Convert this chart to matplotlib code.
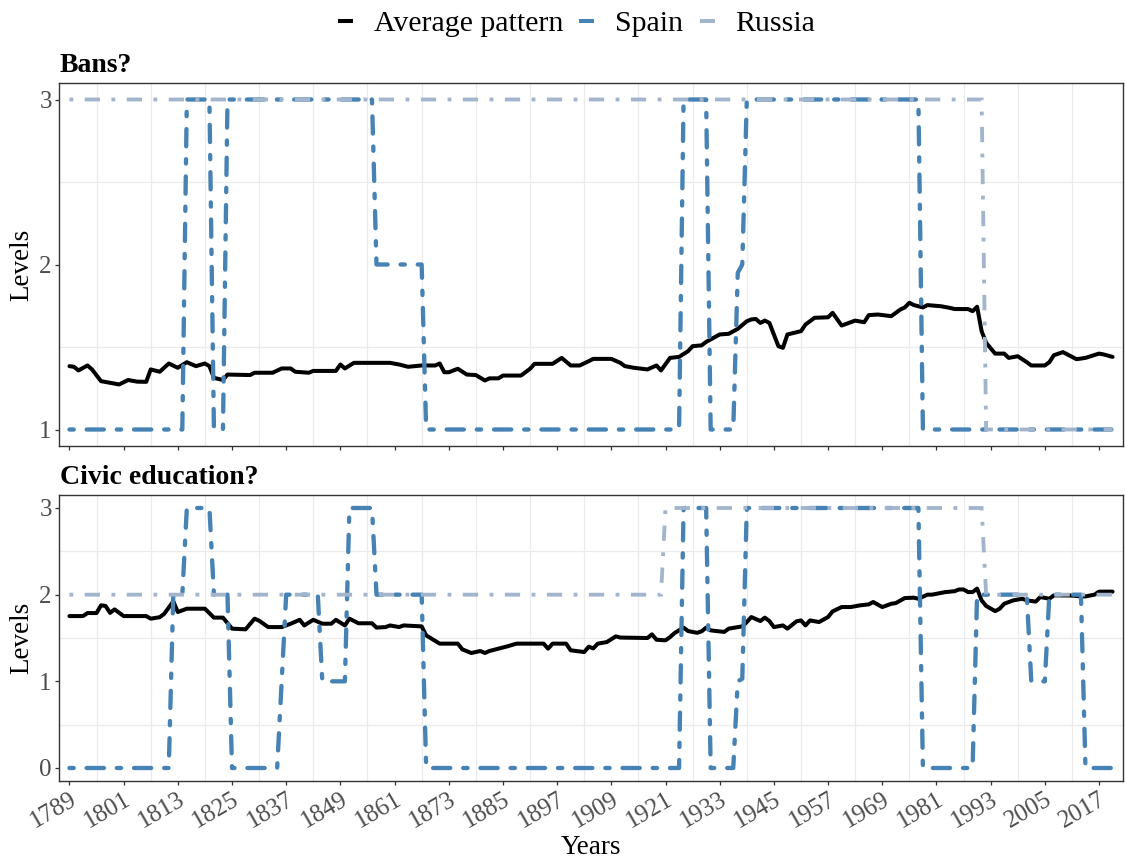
import matplotlib
matplotlib.use('Agg')
import matplotlib.pyplot as plt
from matplotlib.lines import Line2D

plt.rcParams['font.family'] = ['Liberation Serif', 'DejaVu Serif']

# ---------------------------------------------------------------------------
# Data: "Bans?" panel
bans_avg_years = [1789, 1790, 1791, 1793, 1794, 1796, 1798, 1800, 1802, 1804,
                  1806, 1807, 1809, 1811, 1813, 1815, 1817, 1819, 1820, 1821,
                  1823, 1824, 1829, 1830, 1834, 1836, 1838, 1839, 1842, 1843,
                  1848, 1849, 1850, 1852, 1860, 1862, 1864, 1867, 1870, 1871,
                  1872, 1873, 1875, 1877, 1879, 1881, 1882, 1884, 1885, 1889,
                  1891, 1892, 1896, 1898, 1900, 1902, 1904, 1905, 1909, 1911,
                  1912, 1914, 1917, 1919, 1920, 1922, 1924, 1926, 1927, 1929,
                  1930, 1933, 1935, 1937, 1939, 1940, 1941, 1942, 1943, 1944,
                  1946, 1947, 1948, 1951, 1952, 1954, 1957, 1958, 1960, 1961,
                  1963, 1965, 1966, 1968, 1971, 1973, 1974, 1975, 1976, 1978,
                  1979, 1982, 1984, 1985, 1988, 1989, 1990, 1991, 1992, 1994,
                  1996, 1997, 1999, 2001, 2002, 2005, 2006, 2007, 2009, 2010,
                  2012, 2014, 2017, 2018, 2020]
bans_avg_vals = [1.384, 1.38, 1.358, 1.388, 1.364, 1.293, 1.283, 1.273, 1.30, 1.29,
                 1.289, 1.364, 1.35, 1.40, 1.374, 1.408, 1.384, 1.40, 1.384, 1.313,
                 1.30, 1.333, 1.33, 1.344, 1.344, 1.37, 1.37, 1.35, 1.344, 1.355,
                 1.355, 1.394, 1.37, 1.404, 1.404, 1.394, 1.38, 1.388, 1.388, 1.40,
                 1.347, 1.347, 1.368, 1.333, 1.33, 1.297, 1.31, 1.31, 1.327, 1.327,
                 1.368, 1.398, 1.398, 1.434, 1.388, 1.388, 1.414, 1.428, 1.428, 1.404,
                 1.384, 1.374, 1.364, 1.388, 1.358, 1.434, 1.44, 1.475, 1.505, 1.51,
                 1.531, 1.576, 1.58, 1.61, 1.656, 1.667, 1.67, 1.646, 1.66, 1.646,
                 1.505, 1.495, 1.576, 1.596, 1.636, 1.677, 1.68, 1.707, 1.63, 1.64,
                 1.66, 1.65, 1.693, 1.697, 1.687, 1.727, 1.74, 1.768, 1.754, 1.74,
                 1.754, 1.747, 1.737, 1.73, 1.73, 1.717, 1.744, 1.596, 1.525, 1.46,
                 1.46, 1.434, 1.444, 1.408, 1.388, 1.388, 1.408, 1.45, 1.469, 1.455,
                 1.426, 1.434, 1.46, 1.455, 1.44]

bans_spain_years = [1789, 1814, 1815, 1820, 1821, 1823, 1824, 1856, 1857, 1867,
                    1868, 1924, 1925, 1930, 1931, 1936, 1937, 1938, 1939, 1977,
                    1978, 2020]
bans_spain_vals = [1, 1, 3, 3, 1, 1, 3, 3, 2, 2,
                   1, 1, 3, 3, 1, 1, 1.95, 2, 3, 3,
                   1, 1]

bans_russia_years = [1789, 1991, 1992, 2020]
bans_russia_vals = [3, 3, 1, 1]

# ---------------------------------------------------------------------------
# Data: "Civic education?" panel
civic_avg_years = [1789, 1792, 1793, 1795, 1796, 1797, 1798, 1799, 1801, 1806,
                   1807, 1809, 1810, 1812, 1813, 1815, 1819, 1821, 1823, 1825,
                   1828, 1830, 1831, 1833, 1836, 1838, 1840, 1841, 1843, 1845,
                   1847, 1848, 1850, 1851, 1853, 1856, 1857, 1859, 1860, 1862,
                   1863, 1867, 1868, 1871, 1875, 1876, 1878, 1880, 1881, 1882,
                   1884, 1886, 1888, 1894, 1895, 1896, 1899, 1900, 1903, 1904,
                   1905, 1906, 1908, 1910, 1911, 1917, 1918, 1919, 1921, 1922,
                   1923, 1925, 1926, 1928, 1929, 1930, 1931, 1934, 1935, 1937,
                   1938, 1939, 1940, 1942, 1943, 1944, 1945, 1947, 1948, 1950,
                   1951, 1952, 1953, 1955, 1957, 1958, 1960, 1962, 1964, 1966,
                   1967, 1969, 1971, 1972, 1974, 1976, 1977, 1979, 1980, 1982,
                   1983, 1985, 1986, 1987, 1988, 1989, 1990, 1991, 1992, 1994,
                   1995, 1996, 1998, 2000, 2001, 2003, 2004, 2006, 2007, 2011,
                   2013, 2014, 2016, 2017, 2020]
civic_avg_vals = [1.753, 1.753, 1.788, 1.788, 1.877, 1.87, 1.79, 1.83, 1.753, 1.753,
                  1.723, 1.74, 1.78, 1.923, 1.80, 1.838, 1.838, 1.735, 1.735, 1.608,
                  1.60, 1.723, 1.70, 1.626, 1.626, 1.665, 1.71, 1.645, 1.71, 1.665,
                  1.665, 1.71, 1.645, 1.723, 1.67, 1.67, 1.62, 1.626, 1.645, 1.626,
                  1.645, 1.634, 1.53, 1.435, 1.435, 1.369, 1.327, 1.35, 1.327, 1.35,
                  1.377, 1.404, 1.435, 1.435, 1.377, 1.435, 1.435, 1.358, 1.338, 1.40,
                  1.38, 1.435, 1.453, 1.519, 1.505, 1.50, 1.542, 1.48, 1.473, 1.51,
                  1.557, 1.62, 1.58, 1.56, 1.577, 1.62, 1.588, 1.57, 1.608, 1.626,
                  1.634, 1.684, 1.742, 1.696, 1.735, 1.696, 1.626, 1.645, 1.608, 1.692,
                  1.703, 1.645, 1.703, 1.684, 1.742, 1.807, 1.857, 1.857, 1.876, 1.888,
                  1.915, 1.857, 1.895, 1.903, 1.961, 1.965, 1.953, 2.0, 2.0, 2.02,
                  2.03, 2.04, 2.06, 2.06, 2.03, 2.03, 2.07, 1.934, 1.87, 1.81,
                  1.838, 1.895, 1.934, 1.953, 1.934, 1.92, 1.973, 1.953, 1.992, 1.99,
                  1.98, 1.98, 2.0, 2.035, 2.035]

civic_spain_years = [1789, 1811, 1812, 1814, 1815, 1820, 1821, 1824, 1825, 1835,
                     1836, 1837, 1844, 1845, 1850, 1851, 1856, 1857, 1867, 1868,
                     1924, 1925, 1930, 1931, 1936, 1937, 1938, 1939, 1977, 1978,
                     1989, 1990, 2001, 2002, 2005, 2006, 2013, 2014, 2020]
civic_spain_vals = [0, 0, 2, 2, 3, 3, 2, 2, 0, 0,
                    1, 2, 2, 1, 1, 3, 3, 2, 2, 0,
                    0, 3, 3, 0, 0, 1, 1.03, 3, 3, 0,
                    0, 2, 2, 1, 1, 2, 2, 0, 0]

civic_russia_years = [1789, 1920, 1921, 1991, 1992, 2020]
civic_russia_vals = [2, 2, 3, 3, 2, 2]

year_ticks = list(range(1789, 2018, 12))
year_minor = [y + 6 for y in year_ticks if y + 6 < 2022]

AVG_COLOR = 'black'
SPAIN_COLOR = '#4682B4'
RUSSIA_COLOR = '#A2B5CD'
GRID_COLOR = '#EBEBEB'
BORDER_COLOR = '#333333'
TICK_COLOR = '#4D4D4D'


def draw_panel(ax, avg, spain, russia, ylim, yticks, yminor, show_xlabels):
    ax.plot(avg[0], avg[1], color=AVG_COLOR, lw=2.9, solid_joinstyle='round',
            solid_capstyle='round', zorder=3)
    ax.plot(spain[0], spain[1], color=SPAIN_COLOR, lw=3.1, dashes=(1, 3, 4, 3),
            dash_capstyle='round', dash_joinstyle='round', zorder=4)
    ax.plot(russia[0], russia[1], color=RUSSIA_COLOR, lw=2.75, dashes=(1, 3, 4, 3),
            dash_capstyle='butt', dash_joinstyle='miter', zorder=5)

    ax.set_xlim(1786.69, 2022.31)
    ax.set_ylim(*ylim)
    ax.set_xticks(year_ticks)
    ax.set_xticks(year_minor, minor=True)
    ax.set_yticks(yticks)
    ax.set_yticks(yminor, minor=True)
    ax.grid(False, which='major')
    ax.grid(True, which='minor', color=GRID_COLOR, lw=0.9)
    ax.set_axisbelow(True)

    for s in ax.spines.values():
        s.set_color(BORDER_COLOR)
        s.set_linewidth(1.0)

    ax.tick_params(which='major', length=3.2, width=0.9, color=BORDER_COLOR,
                   labelsize=18, labelcolor=TICK_COLOR, pad=2)
    ax.tick_params(which='minor', length=0)
    if show_xlabels:
        ax.set_xticklabels([str(y) for y in year_ticks], rotation=30,
                           ha='right', va='top', rotation_mode='anchor')
    else:
        ax.set_xticklabels([])


fig = plt.figure(figsize=(11.26, 8.64), dpi=100)
W, H = 1126.0, 864.0
left, right = 59 / W, 1123 / W
ax_top = fig.add_axes([left, 1 - 446 / H, right - left, 363 / H])
ax_bot = fig.add_axes([left, 1 - 781 / H, right - left, 286 / H])

draw_panel(ax_top, (bans_avg_years, bans_avg_vals),
           (bans_spain_years, bans_spain_vals),
           (bans_russia_years, bans_russia_vals),
           (0.9, 3.1), [1, 2, 3], [1.5, 2.5], False)
draw_panel(ax_bot, (civic_avg_years, civic_avg_vals),
           (civic_spain_years, civic_spain_vals),
           (civic_russia_years, civic_russia_vals),
           (-0.15, 3.15), [0, 1, 2, 3], [0.5, 1.5, 2.5], True)

# panel titles
fig.text(60 / W, 1 - 72 / H, 'Bans?', fontsize=20, fontweight='bold',
         ha='left', va='baseline')
fig.text(60 / W, 1 - 484 / H, 'Civic education?', fontsize=20, fontweight='bold',
         ha='left', va='baseline')

# axis titles
fig.text(22 / W, 1 - 265 / H, 'Levels', fontsize=19.5, rotation=90,
         ha='center', va='center')
fig.text(22 / W, 1 - 638 / H, 'Levels', fontsize=19.5, rotation=90,
         ha='center', va='center')
fig.text(591 / W, 1 - 848 / H, 'Years', fontsize=19.5, ha='center', va='center')

handles = [Line2D([], [], color=AVG_COLOR, lw=2.9, solid_capstyle='butt'),
           Line2D([], [], color=SPAIN_COLOR, lw=2.9, solid_capstyle='butt'),
           Line2D([], [], color=RUSSIA_COLOR, lw=2.9, solid_capstyle='butt')]
fig.legend(handles, ['Average pattern', 'Spain', 'Russia'], loc='center',
           bbox_to_anchor=(576.5 / W, 1 - 24 / H), ncol=3, frameon=False,
           fontsize=21.5, handlelength=0.5, handletextpad=0.7,
           columnspacing=0.55, borderaxespad=0, borderpad=0)

fig.savefig('out.png', dpi=100, facecolor='white')
